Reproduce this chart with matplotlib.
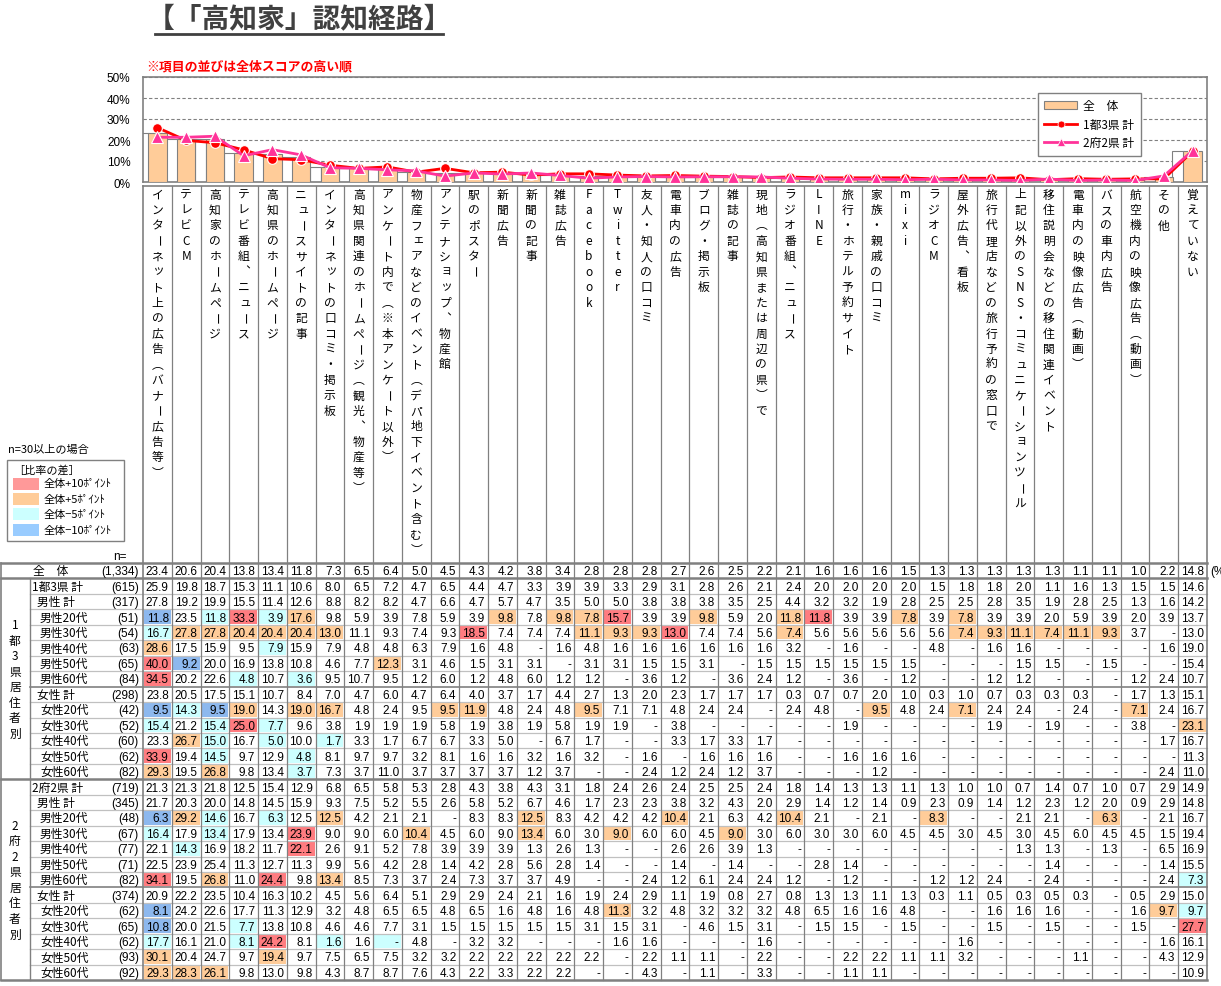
import numpy as np
import matplotlib.pyplot as plt
from matplotlib.patches import Rectangle, Patch
from matplotlib.lines import Line2D

plt.rcParams['font.family'] = ['Noto Sans CJK JP', 'DejaVu Sans']
NUM_FONT = ['Liberation Sans', 'Noto Sans CJK JP']

_ = None  # 表の「-」

categories = [
    "インターネット上の広告（バナー広告等）", "テレビCM", "高知家のホームページ",
    "テレビ番組、ニュース", "高知県のホームページ", "ニュースサイトの記事",
    "インターネットの口コミ・掲示板", "高知県関連のホームページ（観光、物産等）",
    "アンケート内で（※本アンケート以外）", "物産フェアなどのイベント（デパ地下イベント含む）",
    "アンテナショップ、物産館", "駅のポスター", "新聞広告", "新聞の記事", "雑誌広告",
    "Facebook", "Twitter", "友人・知人の口コミ", "電車内の広告", "ブログ・掲示板",
    "雑誌の記事", "現地（高知県または周辺の県）で", "ラジオ番組、ニュース", "LINE",
    "旅行・ホテル予約サイト", "家族・親戚の口コミ", "mixi", "ラジオCM", "屋外広告、看板",
    "旅行代理店などの旅行予約の窓口で", "上記以外のSNS・コミュニケーションツール",
    "移住説明会などの移住関連イベント", "電車内の映像広告（動画）", "バスの車内広告",
    "航空機内の映像広告（動画）", "その他", "覚えていない",
]

total = [23.4, 20.6, 20.4, 13.8, 13.4, 11.8, 7.3, 6.5, 6.4, 5.0, 4.5, 4.3, 4.2, 3.8, 3.4, 2.8, 2.8, 2.8, 2.7,
         2.6, 2.5, 2.2, 2.1, 1.6, 1.6, 1.6, 1.5, 1.3, 1.3, 1.3, 1.3, 1.3, 1.1, 1.1, 1.0, 2.2, 14.8]
n_total = 1334

# 1都3県
tokyo_total = [25.9, 19.8, 18.7, 15.3, 11.1, 10.6, 8.0, 6.5, 7.2, 4.7, 6.5, 4.4, 4.7, 3.3, 3.9, 3.9, 3.3, 2.9, 3.1,
               2.8, 2.6, 2.1, 2.4, 2.0, 2.0, 2.0, 2.0, 1.5, 1.8, 1.8, 2.0, 1.1, 1.6, 1.3, 1.5, 1.5, 14.6]
m_total1 = [27.8, 19.2, 19.9, 15.5, 11.4, 12.6, 8.8, 8.2, 8.2, 4.7, 6.6, 4.7, 5.7, 4.7, 3.5, 5.0, 5.0, 3.8, 3.8,
            3.8, 3.5, 2.5, 4.4, 3.2, 3.2, 1.9, 2.8, 2.5, 2.5, 2.8, 3.5, 1.9, 2.8, 2.5, 1.3, 1.6, 14.2]
m20_1 = [11.8, 23.5, 11.8, 33.3, 3.9, 17.6, 9.8, 5.9, 3.9, 7.8, 5.9, 3.9, 9.8, 7.8, 9.8, 7.8, 15.7, 3.9, 3.9,
         9.8, 5.9, 2.0, 11.8, 11.8, 3.9, 3.9, 7.8, 3.9, 7.8, 3.9, 3.9, 2.0, 5.9, 3.9, 2.0, 3.9, 13.7]
m30_1 = [16.7, 27.8, 27.8, 20.4, 20.4, 20.4, 13.0, 11.1, 9.3, 7.4, 9.3, 18.5, 7.4, 7.4, 7.4, 11.1, 9.3, 9.3, 13.0,
         7.4, 7.4, 5.6, 7.4, 5.6, 5.6, 5.6, 5.6, 5.6, 7.4, 9.3, 11.1, 7.4, 11.1, 9.3, 3.7, _, 13.0]
m40_1 = [28.6, 17.5, 15.9, 9.5, 7.9, 15.9, 7.9, 4.8, 4.8, 6.3, 7.9, 1.6, 4.8, _, 1.6, 4.8, 1.6, 1.6, 1.6,
         1.6, 1.6, 1.6, 3.2, _, 1.6, _, _, 4.8, _, 1.6, 1.6, _, _, _, _, 1.6, 19.0]
m50_1 = [40.0, 9.2, 20.0, 16.9, 13.8, 10.8, 4.6, 7.7, 12.3, 3.1, 4.6, 1.5, 3.1, 3.1, _, 3.1, 3.1, 1.5, 1.5,
         3.1, _, 1.5, 1.5, 1.5, 1.5, 1.5, 1.5, _, _, _, 1.5, 1.5, _, 1.5, _, _, 15.4]
m60_1 = [34.5, 20.2, 22.6, 4.8, 10.7, 3.6, 9.5, 10.7, 9.5, 1.2, 6.0, 1.2, 4.8, 6.0, 1.2, 1.2, _, 3.6, 1.2,
         _, 3.6, 2.4, 1.2, _, 3.6, _, 1.2, _, _, 1.2, 1.2, _, _, _, 1.2, 2.4, 10.7]
f_total1 = [23.8, 20.5, 17.5, 15.1, 10.7, 8.4, 7.0, 4.7, 6.0, 4.7, 6.4, 4.0, 3.7, 1.7, 4.4, 2.7, 1.3, 2.0, 2.3,
            1.7, 1.7, 1.7, 0.3, 0.7, 0.7, 2.0, 1.0, 0.3, 1.0, 0.7, 0.3, 0.3, 0.3, _, 1.7, 1.3, 15.1]
f20_1 = [9.5, 14.3, 9.5, 19.0, 14.3, 19.0, 16.7, 4.8, 2.4, 9.5, 9.5, 11.9, 4.8, 2.4, 4.8, 9.5, 7.1, 7.1, 4.8,
         2.4, 2.4, _, 2.4, 4.8, _, 9.5, 4.8, 2.4, 7.1, 2.4, 2.4, _, 2.4, _, 7.1, 2.4, 16.7]
f30_1 = [15.4, 21.2, 15.4, 25.0, 7.7, 9.6, 3.8, 1.9, 1.9, 1.9, 5.8, 1.9, 3.8, 1.9, 5.8, 1.9, 1.9, _, 3.8,
         _, _, _, _, _, 1.9, _, _, _, _, 1.9, _, 1.9, _, _, 3.8, _, 23.1]
f40_1 = [23.3, 26.7, 15.0, 16.7, 5.0, 10.0, 1.7, 3.3, 1.7, 6.7, 6.7, 3.3, 5.0, _, 6.7, 1.7, _, _, 3.3,
         1.7, 3.3, 1.7, _, _, _, _, _, _, _, _, _, _, _, _, _, 1.7, 16.7]
f50_1 = [33.9, 19.4, 14.5, 9.7, 12.9, 4.8, 8.1, 9.7, 9.7, 3.2, 8.1, 1.6, 1.6, 3.2, 1.6, 3.2, _, 1.6, _,
         1.6, 1.6, 1.6, _, _, 1.6, 1.6, 1.6, _, _, _, _, _, _, _, _, _, 11.3]
f60_1 = [29.3, 19.5, 26.8, 9.8, 13.4, 3.7, 7.3, 3.7, 11.0, 3.7, 3.7, 3.7, 3.7, 1.2, 3.7, _, _, 2.4, 1.2,
         2.4, 1.2, 3.7, _, _, _, 1.2, _, _, _, _, _, _, _, _, _, 2.4, 11.0]

# 2府2県
osaka_total = [21.3, 21.3, 21.8, 12.5, 15.4, 12.9, 6.8, 6.5, 5.8, 5.3, 2.8, 4.3, 3.8, 4.3, 3.1, 1.8, 2.4, 2.6, 2.4,
               2.5, 2.5, 2.4, 1.8, 1.4, 1.3, 1.3, 1.1, 1.3, 1.0, 1.0, 0.7, 1.4, 0.7, 1.0, 0.7, 2.9, 14.9]
m_total2 = [21.7, 20.3, 20.0, 14.8, 14.5, 15.9, 9.3, 7.5, 5.2, 5.5, 2.6, 5.8, 5.2, 6.7, 4.6, 1.7, 2.3, 2.3, 3.8,
            3.2, 4.3, 2.0, 2.9, 1.4, 1.2, 1.4, 0.9, 2.3, 0.9, 1.4, 1.2, 2.3, 1.2, 2.0, 0.9, 2.9, 14.8]
m20_2 = [6.3, 29.2, 14.6, 16.7, 6.3, 12.5, 12.5, 4.2, 2.1, 2.1, _, 8.3, 8.3, 12.5, 8.3, 4.2, 4.2, 4.2, 10.4,
         2.1, 6.3, 4.2, 10.4, 2.1, _, 2.1, _, 8.3, _, _, 2.1, 2.1, _, 6.3, _, 2.1, 16.7]
m30_2 = [16.4, 17.9, 13.4, 17.9, 13.4, 23.9, 9.0, 9.0, 6.0, 10.4, 4.5, 6.0, 9.0, 13.4, 6.0, 3.0, 9.0, 6.0, 6.0,
         4.5, 9.0, 3.0, 6.0, 3.0, 3.0, 6.0, 4.5, 4.5, 3.0, 4.5, 3.0, 4.5, 6.0, 4.5, 4.5, 1.5, 19.4]
m40_2 = [22.1, 14.3, 16.9, 18.2, 11.7, 22.1, 2.6, 9.1, 5.2, 7.8, 3.9, 3.9, 3.9, 1.3, 2.6, 1.3, _, _, 2.6,
         2.6, 3.9, 1.3, _, _, _, _, _, _, _, _, 1.3, 1.3, _, 1.3, _, 6.5, 16.9]
m50_2 = [22.5, 23.9, 25.4, 11.3, 12.7, 11.3, 9.9, 5.6, 4.2, 2.8, 1.4, 4.2, 2.8, 5.6, 2.8, 1.4, _, _, 1.4,
         _, 1.4, _, _, 2.8, 1.4, _, _, _, _, _, _, 1.4, _, _, _, 1.4, 15.5]
m60_2 = [34.1, 19.5, 26.8, 11.0, 24.4, 9.8, 13.4, 8.5, 7.3, 3.7, 2.4, 7.3, 3.7, 3.7, 4.9, _, _, 2.4, 1.2,
         6.1, 2.4, 2.4, 1.2, _, 1.2, _, _, 1.2, 1.2, 2.4, _, 2.4, _, _, _, 2.4, 7.3]
f_total2 = [20.9, 22.2, 23.5, 10.4, 16.3, 10.2, 4.5, 5.6, 6.4, 5.1, 2.9, 2.9, 2.4, 2.1, 1.6, 1.9, 2.4, 2.9, 1.1,
            1.9, 0.8, 2.7, 0.8, 1.3, 1.3, 1.1, 1.3, 0.3, 1.1, 0.5, 0.3, 0.5, 0.3, _, 0.5, 2.9, 15.0]
f20_2 = [8.1, 24.2, 22.6, 17.7, 11.3, 12.9, 3.2, 4.8, 6.5, 6.5, 4.8, 6.5, 1.6, 4.8, 1.6, 4.8, 11.3, 3.2, 4.8,
         3.2, 3.2, 3.2, 4.8, 6.5, 1.6, 1.6, 4.8, _, _, 1.6, 1.6, 1.6, _, _, 1.6, 9.7, 9.7]
f30_2 = [10.8, 20.0, 21.5, 7.7, 13.8, 10.8, 4.6, 4.6, 7.7, 3.1, 1.5, 1.5, 1.5, 1.5, 1.5, 3.1, 1.5, 3.1, _,
         4.6, 1.5, 3.1, _, 1.5, 1.5, _, 1.5, _, _, 1.5, _, 1.5, _, _, 1.5, _, 27.7]
f40_2 = [17.7, 16.1, 21.0, 8.1, 24.2, 8.1, 1.6, 1.6, _, 4.8, _, 3.2, 3.2, _, _, _, 1.6, 1.6, _,
         _, _, 1.6, _, _, _, _, _, _, 1.6, _, _, _, _, _, _, 1.6, 16.1]
f50_2 = [30.1, 20.4, 24.7, 9.7, 19.4, 9.7, 7.5, 6.5, 7.5, 3.2, 3.2, 2.2, 2.2, 2.2, 2.2, 2.2, _, 2.2, 1.1,
         1.1, _, 2.2, _, _, 2.2, 2.2, 1.1, 1.1, 3.2, _, _, _, 1.1, _, _, 4.3, 12.9]
f60_2 = [29.3, 28.3, 26.1, 9.8, 13.0, 9.8, 4.3, 8.7, 8.7, 7.6, 4.3, 2.2, 3.3, 2.2, 2.2, _, _, 4.3, _,
         1.1, _, 3.3, _, _, 1.1, 1.1, _, _, _, _, _, _, _, _, _, _, 10.9]

group1_labels = ["1都3県 計", "男性 計", "男性20代", "男性30代", "男性40代", "男性50代", "男性60代",
                 "女性 計", "女性20代", "女性30代", "女性40代", "女性50代", "女性60代"]
group1_n = [615, 317, 51, 54, 63, 65, 84, 298, 42, 52, 60, 62, 82]
group1_vals = [tokyo_total, m_total1, m20_1, m30_1, m40_1, m50_1, m60_1,
               f_total1, f20_1, f30_1, f40_1, f50_1, f60_1]
group2_labels = ["2府2県 計", "男性 計", "男性20代", "男性30代", "男性40代", "男性50代", "男性60代",
                 "女性 計", "女性20代", "女性30代", "女性40代", "女性50代", "女性60代"]
group2_n = [719, 345, 48, 67, 77, 71, 82, 374, 62, 65, 62, 93, 92]
group2_vals = [osaka_total, m_total2, m20_2, m30_2, m40_2, m50_2, m60_2,
               f_total2, f20_2, f30_2, f40_2, f50_2, f60_2]

# 色分けの例外（元の表で丸め前の差が境界を跨ぐセル）
overrides = {(4, 32): 'o', (19, 2): ''}

C_RED, C_ORG, C_CYN, C_BLU = '#FF7C80', '#FFCC99', '#CCFFFF', '#8DB8EE'
GRAY = '#808080'

W, H = 1221, 987
fig = plt.figure(figsize=(W / 100, H / 100), dpi=100)
ov = fig.add_axes([0, 0, 1, 1])
ov.set_xlim(0, W)
ov.set_ylim(H, 0)
ov.axis('off')

ncol = len(categories)
X0, X1 = 143, 1207
CW = (X1 - X0) / ncol

# タイトル
ov.text(299, 19, '【「高知家」認知経路】', ha='center', va='center', fontsize=20,
        weight='bold', color='#404040')
ov.plot([155, 443], [35, 35], color='#404040', lw=2)
ov.text(146, 66, '※項目の並びは全体スコアの高い順', ha='left', va='center', fontsize=9.3,
        color='#FF0000', weight='bold')

# グラフ
ax = fig.add_axes([X0 / W, 1 - 183 / H, (X1 - X0) / W, 105 / H])
x = np.arange(ncol)
ax.bar(x - 0.5, total, width=0.4, color='white', edgecolor=GRAY, lw=0.8, zorder=2)
ax.bar(x, total, width=0.64, color=C_ORG, edgecolor=GRAY, lw=0.8, zorder=3)
ax.plot(x, tokyo_total, color='#FF0000', lw=2, marker='o', ms=7, mec='white', mew=0.8, zorder=5)
ax.plot(x, osaka_total, color='#FF3399', lw=2, marker='^', ms=8, mec='white', mew=0.8, zorder=6)
ax.set_xlim(-0.5, ncol - 0.5)
ax.set_ylim(0, 50)
ax.set_xticks([])
ax.set_yticks(range(0, 51, 10))
ax.set_yticklabels([f'{v}%' for v in range(0, 51, 10)], family=NUM_FONT, fontsize=8.5)
ax.tick_params(axis='y', length=0, pad=9)
ax.grid(axis='y', color=GRAY, ls=(0, (3, 2)), lw=0.8, zorder=0)
for s in ax.spines.values():
    s.set_color(GRAY)
    s.set_linewidth(1.2)

handles = [Patch(facecolor=C_ORG, edgecolor=GRAY, lw=0.8),
           Line2D([], [], color='#FF0000', lw=2, marker='o', ms=5, mec='white', mew=0.5),
           Line2D([], [], color='#FF3399', lw=2, marker='^', ms=6, mec='white', mew=0.5)]
leg = ax.legend(handles, ['全　体', '1都3県 計', '2府2県 計'], loc='upper left',
                bbox_to_anchor=(1032 / W, 1 - 88 / H), bbox_transform=fig.transFigure,
                fontsize=8.5, frameon=True, fancybox=False, framealpha=1, edgecolor=GRAY,
                handlelength=2.8, handleheight=0.6, labelspacing=0.45, borderpad=0.55,
                handletextpad=0.5)
leg.get_frame().set_linewidth(1.0)

# 項目ラベル（縦書き）
LAB_TOP, TOP = 187, 564
vertical_forms = {'（': '︵', '）': '︶', '、': '︑'}
small_kana = 'ッョュェャァィゥォ'
for i, cat in enumerate(categories):
    cx = X0 + (i + 0.5) * CW
    for j, ch in enumerate(cat):
        y = 195 + j * 15.45
        rot, dx, dy = 0, 0, 0
        if ch == 'ー':
            rot = -90
        elif ch in small_kana:
            dx, dy = 1.5, -1.5
        ch = vertical_forms.get(ch, ch)
        ov.text(cx + dx, y + dy, ch, ha='center', va='center', fontsize=8.5, rotation=rot)

# 表
RH = 15.45
rows = [('全　体', n_total, total)]
rows += list(zip(group1_labels, group1_n, group1_vals))
rows += list(zip(group2_labels, group2_n, group2_vals))
BOTTOM = TOP + len(rows) * RH


def level(v, base):
    d = round((v or 0) - base, 1)
    if d >= 10:
        return 'r'
    if d >= 5:
        return 'o'
    if d <= -10:
        return 'b'
    if d <= -5:
        return 'c'
    return ''


fills = {'r': C_RED, 'o': C_ORG, 'c': C_CYN, 'b': C_BLU}
for r, (lab, n, vals) in enumerate(rows):
    yt = TOP + r * RH
    yc = yt + RH / 2
    for c, v in enumerate(vals):
        xl = X0 + c * CW
        if r > 0:
            lv = overrides.get((r, c), level(v, total[c]))
            if lv:
                ov.add_patch(Rectangle((xl + 1, yt + 1), CW - 2, RH - 2, color=fills[lv], lw=0))
        ov.text(xl + CW - 3, yc + 0.5, '-' if v is None else f'{v:.1f}', ha='right', va='center',
                fontsize=8.5, family=NUM_FONT)
    ov.text(139, yc + 0.5, f'({n:,})', ha='right', va='center', fontsize=8.5, family=NUM_FONT)
    if r == 0:
        ov.text(51, yc, lab, ha='center', va='center', fontsize=8.5)
    else:
        k = (r - 1) % 13
        xi = 32 if k == 0 else (37 if k in (1, 7) else 40)
        ov.text(xi, yc, lab, ha='left', va='center', fontsize=8.5)

ov.text(1210, TOP + RH / 2 + 0.5, '(%)', ha='left', va='center', fontsize=8.5, family=NUM_FONT)
ov.text(113, 557, 'n=', ha='left', va='center', fontsize=8.5, family=NUM_FONT)

# 居住地ラベル
for g, txt in enumerate(['1都3県居住者別', '2府2県居住者別']):
    gc = TOP + RH * (1 + 13 * g + 6.5)
    for j, ch in enumerate(txt):
        ov.text(15, gc + (j - (len(txt) - 1) / 2) * 15.5, ch, ha='center', va='center', fontsize=8.5)

# 罫線
for r in range(1, len(rows)):
    y = TOP + r * RH
    if r in (1, 14):
        ov.plot([1, X1], [y, y], color=GRAY, lw=1.8)
    elif r in (8, 21):
        ov.plot([30, X1], [y, y], color=GRAY, lw=1.2)
    else:
        ov.plot([30, X1], [y, y], color='#C0C0C0', lw=0.9)
ov.plot([1, X1], [TOP, TOP], color=GRAY, lw=1.8)
ov.plot([1, X1], [BOTTOM, BOTTOM], color=GRAY, lw=1.8)
ov.plot([X0, X1], [LAB_TOP, LAB_TOP], color=GRAY, lw=1.2)
for k in range(ncol + 1):
    xk = X0 + k * CW
    ov.plot([xk, xk], [LAB_TOP, BOTTOM], color=GRAY, lw=1.2 if k in (0, ncol) else 0.9)
ov.plot([1, 1], [TOP, BOTTOM], color=GRAY, lw=1.2)
ov.plot([30, 30], [TOP + RH, BOTTOM], color=GRAY, lw=1.0)

# 比率の差 凡例
ov.text(8, 450, 'n=30以上の場合', ha='left', va='center', fontsize=8)
ov.add_patch(Rectangle((7, 461), 117, 81, fill=False, edgecolor=GRAY, lw=1.0))
ov.text(13, 470, '［比率の差］', ha='left', va='center', fontsize=8)
key_colors = ['#FF9999', C_ORG, C_CYN, '#99CCFF']
key_labels = ['全体+10ﾎﾟｲﾝﾄ', '全体+5ﾎﾟｲﾝﾄ', '全体−5ﾎﾟｲﾝﾄ', '全体−10ﾎﾟｲﾝﾄ']
for k, (kc, kl) in enumerate(zip(key_colors, key_labels)):
    yk = 484.5 + k * 15.4
    ov.add_patch(Rectangle((13, yk - 6), 26, 12, color=kc, lw=0))
    ov.text(44, yk, kl, ha='left', va='center', fontsize=8)

fig.savefig('out.png', dpi=100)
